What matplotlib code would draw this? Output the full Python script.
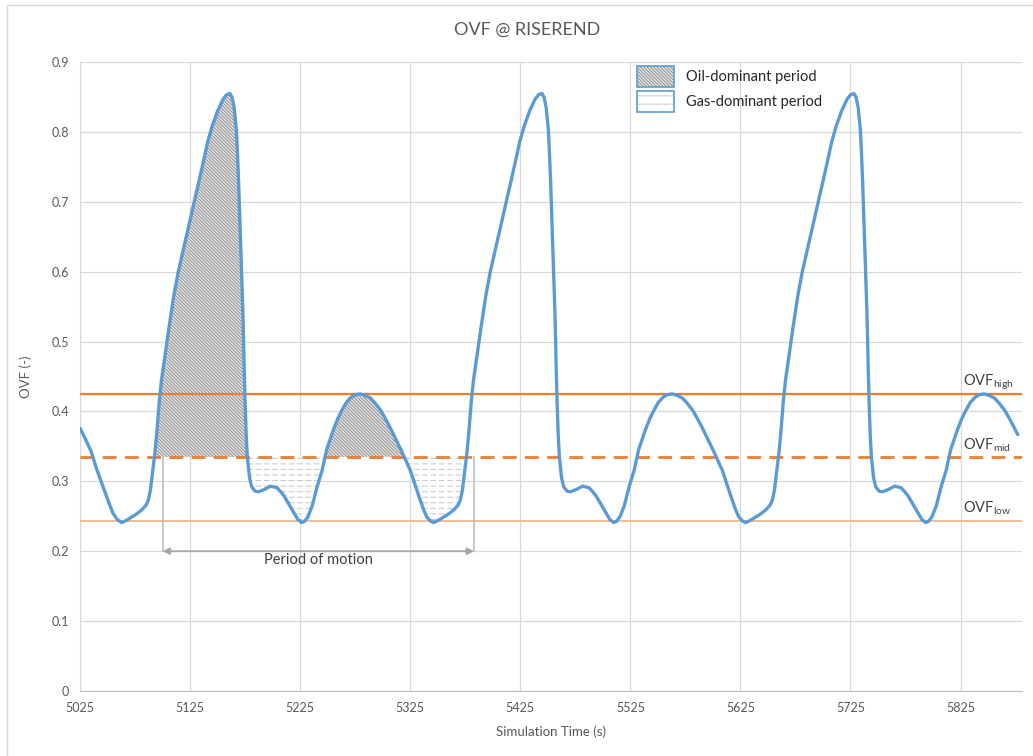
import matplotlib
matplotlib.use("Agg")
import matplotlib.pyplot as plt
from matplotlib.patches import Patch, Rectangle
from matplotlib.legend_handler import HandlerTuple
import numpy as np

# OVF (simulation time in s)
time_s = [
    5025, 5030, 5035, 5040, 5046, 5051, 5055, 5059,
    # period 1
    5063, 5068, 5072, 5077, 5081, 5085, 5087, 5089, 5091, 5093, 5095, 5097, 5099,
    5102, 5106, 5110, 5114, 5119, 5124, 5128, 5133, 5137, 5141, 5145, 5150, 5155,
    5158, 5161, 5163, 5165, 5167, 5168, 5169, 5170, 5171, 5172, 5173, 5174, 5175,
    5176, 5177, 5179, 5181, 5184, 5187, 5192, 5198, 5204, 5210, 5216, 5220, 5223, 5226.5,
    5229, 5232, 5236, 5240, 5245, 5249, 5255, 5259, 5263, 5267, 5271, 5275, 5279.5,
    5284, 5289, 5293, 5298, 5302, 5307, 5316, 5325, 5333, 5337, 5340, 5343.5,
    # period 2
    5346.5, 5351.5, 5355.5, 5360.5, 5364.5, 5368.5, 5370.5, 5372.5, 5374.5, 5376.5,
    5378.5, 5380.5, 5382.5, 5385.5, 5389.5, 5393.5, 5397.5, 5402.5, 5407.5, 5411.5,
    5416.5, 5420.5, 5424.5, 5428.5, 5433.5, 5438.5, 5441.5, 5444.5, 5446.5, 5448.5,
    5450.5, 5451.5, 5452.5, 5453.5, 5454.5, 5455.5, 5456.5, 5457.5, 5458.5, 5459.5,
    5460.5, 5462.5, 5464.5, 5467.5, 5470.5, 5475.5, 5481.5, 5487.5, 5493.5, 5499.5,
    5503.5, 5506.5, 5510, 5512.5, 5515.5, 5519.5, 5523.5, 5528.5, 5532.5, 5538.5,
    5542.5, 5546.5, 5550.5, 5554.5, 5558.5, 5563, 5567.5, 5572.5, 5576.5, 5581.5,
    5585.5, 5590.5, 5599.5, 5608.5, 5616.5, 5620.5, 5623.5, 5627,
    # period 3
    5630, 5635, 5639, 5644, 5648, 5652, 5654, 5656, 5658, 5660, 5662, 5664, 5666,
    5669, 5673, 5677, 5681, 5686, 5691, 5695, 5700, 5704, 5708, 5712, 5717, 5722,
    5725, 5728, 5730, 5732, 5734, 5735, 5736, 5737, 5738, 5739, 5740, 5741, 5742,
    5743, 5744, 5746, 5748, 5751, 5754, 5759, 5765, 5771, 5777, 5783, 5787, 5790, 5793.5,
    5796, 5799, 5803, 5807, 5812, 5816, 5822, 5826, 5830, 5834, 5838, 5842, 5846.5,
    5851, 5856, 5860, 5865, 5869, 5874, 5877,
]
ovf = [
    0.376, 0.360, 0.343, 0.318, 0.292, 0.270, 0.254, 0.245,
    # period 1
    0.241, 0.245, 0.249, 0.254, 0.259, 0.266, 0.273, 0.288, 0.315, 0.340, 0.375, 0.415, 0.445,
    0.478, 0.522, 0.564, 0.598, 0.633, 0.667, 0.695, 0.729, 0.757, 0.786, 0.808, 0.830, 0.847,
    0.853, 0.855, 0.850, 0.835, 0.803, 0.770, 0.731, 0.685, 0.636, 0.588, 0.540, 0.470, 0.410,
    0.365, 0.335, 0.305, 0.292, 0.286, 0.285, 0.288, 0.293, 0.291, 0.280, 0.264, 0.253, 0.245, 0.241,
    0.243, 0.249, 0.265, 0.290, 0.316, 0.345, 0.373, 0.389, 0.402, 0.413, 0.420, 0.424, 0.425,
    0.423, 0.419, 0.412, 0.402, 0.391, 0.376, 0.347, 0.316, 0.278, 0.260, 0.249, 0.243,
    # period 2
    0.241, 0.245, 0.249, 0.254, 0.259, 0.266, 0.273, 0.288, 0.315, 0.340,
    0.375, 0.415, 0.445, 0.478, 0.522, 0.564, 0.598, 0.633, 0.667, 0.695,
    0.729, 0.757, 0.786, 0.808, 0.830, 0.847, 0.853, 0.855, 0.850, 0.835,
    0.803, 0.770, 0.731, 0.685, 0.636, 0.588, 0.540, 0.470, 0.410, 0.365,
    0.335, 0.305, 0.292, 0.286, 0.285, 0.288, 0.293, 0.291, 0.280, 0.264,
    0.253, 0.245, 0.241, 0.243, 0.249, 0.265, 0.290, 0.316, 0.345, 0.373,
    0.389, 0.402, 0.413, 0.420, 0.424, 0.425, 0.423, 0.419, 0.412, 0.402,
    0.391, 0.376, 0.347, 0.316, 0.278, 0.260, 0.249, 0.243,
    # period 3
    0.241, 0.245, 0.249, 0.254, 0.259, 0.266, 0.273, 0.288, 0.315, 0.340, 0.375, 0.415, 0.445,
    0.478, 0.522, 0.564, 0.598, 0.633, 0.667, 0.695, 0.729, 0.757, 0.786, 0.808, 0.830, 0.847,
    0.853, 0.855, 0.850, 0.835, 0.803, 0.770, 0.731, 0.685, 0.636, 0.588, 0.540, 0.470, 0.410,
    0.365, 0.335, 0.305, 0.292, 0.286, 0.285, 0.288, 0.293, 0.291, 0.280, 0.264, 0.253, 0.245, 0.241,
    0.243, 0.249, 0.265, 0.290, 0.316, 0.345, 0.373, 0.389, 0.402, 0.413, 0.420, 0.424, 0.425,
    0.423, 0.419, 0.412, 0.402, 0.391, 0.376, 0.367,
]

ovf_high = 0.425
ovf_mid = 0.335
ovf_low = 0.243

period_start = 5100
period_end = 5383
fill_start = 5093
fill_end = 5377

x_ticks = [5025, 5125, 5225, 5325, 5425, 5525, 5625, 5725, 5825]
y_ticks = [0, 0.1, 0.2, 0.3, 0.4, 0.5, 0.6, 0.7, 0.8, 0.9]
y_tick_labels = ["0", "0.1", "0.2", "0.3", "0.4", "0.5", "0.6", "0.7", "0.8", "0.9"]

plt.rcParams["font.family"] = ["Lato", "DejaVu Sans"]
plt.rcParams["hatch.linewidth"] = 0.7

txt = "#595959"
blue = "#5B9BD5"
orange = "#ED7D31"
oil_hatch = "\\" * 10
oil_face, oil_line = "#e8e8e8", "#8c8c8c"
gas_line = "#c4c4c4"

fig = plt.figure(figsize=(10.33, 7.56), dpi=100)
ax = fig.add_axes([0.0775, 0.086, 0.912, 0.832])

# chart border
fig.patches.append(Rectangle((0.007, -0.05), 1.1, 1.043, transform=fig.transFigure,
                             fill=False, edgecolor="#d9d9d9", lw=1.0))

t = np.array(time_s)
v = np.array(ovf)
in_period = (t >= fill_start) & (t <= fill_end)
oil = in_period & (v >= ovf_mid)
gas = in_period & (v <= ovf_mid)

ax.fill_between(t, v, ovf_mid, where=oil, interpolate=True,
                facecolor=oil_face, edgecolor=oil_line, hatch=oil_hatch, lw=0, zorder=2)
ax.fill_between(t, v, ovf_mid, where=gas, interpolate=True,
                facecolor="white", edgecolor=gas_line, hatch="---", lw=0, zorder=2)
# break the gas lines into short dashes
with plt.rc_context({"hatch.linewidth": 2.0}):
    ax.fill_between(t, v, ovf_mid, where=gas, interpolate=True,
                    facecolor="none", edgecolor="white", hatch="||", lw=0, zorder=2.1)
    gas_breaker = Patch(facecolor="none", edgecolor="white", hatch="||", lw=0)

ax.axhline(ovf_high, color=orange, lw=1.6, zorder=3)
ax.axhline(ovf_mid, color=orange, lw=2.0, ls=(0, (5, 3)), zorder=3)
ax.axhline(ovf_low, color="#F4B183", lw=1.2, zorder=3)

ax.plot(t, v, color=blue, lw=2.4, zorder=4, solid_capstyle="round", solid_joinstyle="round")

# period of motion marker
ax.plot([period_start, period_start], [ovf_mid, 0.2], color="#bfbfbf", lw=1.2, zorder=3)
ax.plot([period_end, period_end], [ovf_mid, 0.2], color="#bfbfbf", lw=1.2, zorder=3)
ax.annotate("", xy=(period_start, 0.2), xytext=(period_end, 0.2),
            arrowprops=dict(arrowstyle="<|-|>", color="#a6a6a6", lw=1.3,
                            shrinkA=0, shrinkB=0, mutation_scale=10), zorder=3)
ax.text((period_start + period_end) / 2, 0.188, "Period of motion", ha="center", va="center",
        fontsize=10.5, color="#404040")

ax.text(5827, 0.438, "OVF$_{\\mathregular{high}}$", fontsize=10.5, color="#404040")
ax.text(5827, 0.346, "OVF$_{\\mathregular{mid}}$", fontsize=10.5, color="#404040")
ax.text(5827, 0.255, "OVF$_{\\mathregular{low}}$", fontsize=10.5, color="#404040")

ax.set_xlim(5025, 5881)
ax.set_ylim(0, 0.9)
ax.set_xticks(x_ticks)
ax.set_yticks(y_ticks)
ax.set_yticklabels(y_tick_labels)
ax.tick_params(length=0, labelsize=9, colors=txt, pad=8)
ax.grid(True, color="#d9d9d9", lw=0.9)
ax.set_axisbelow(True)
for side in ["top", "right"]:
    ax.spines[side].set_visible(False)
ax.spines["left"].set_color("#d9d9d9")
ax.spines["bottom"].set_color("#bfbfbf")

ax.set_xlabel("Simulation Time (s)", fontsize=9.5, color=txt, labelpad=8)
ax.set_ylabel("OVF (-)", fontsize=9.5, color=txt, labelpad=14)
fig.text(0.51, 0.96, "OVF @ RISEREND", ha="center", va="center", fontsize=13, color=txt)

border = Patch(facecolor="none", edgecolor=blue, lw=1.2)
handles = [
    (Patch(facecolor=oil_face, edgecolor=oil_line, hatch=oil_hatch, lw=0), border),
    (Patch(facecolor="white", edgecolor=gas_line, hatch="--", lw=0), gas_breaker, border),
]
leg = ax.legend(handles, ["Oil-dominant period", "Gas-dominant period"],
                handler_map={tuple: HandlerTuple(ndivide=1, pad=0)},
                loc="upper left", bbox_to_anchor=(0.577, 1.014), frameon=False,
                fontsize=10.5, handlelength=2.55, handleheight=1.8, labelspacing=0.3)
for text in leg.get_texts():
    text.set_color("#262626")

fig.savefig("out.png", dpi=100)
